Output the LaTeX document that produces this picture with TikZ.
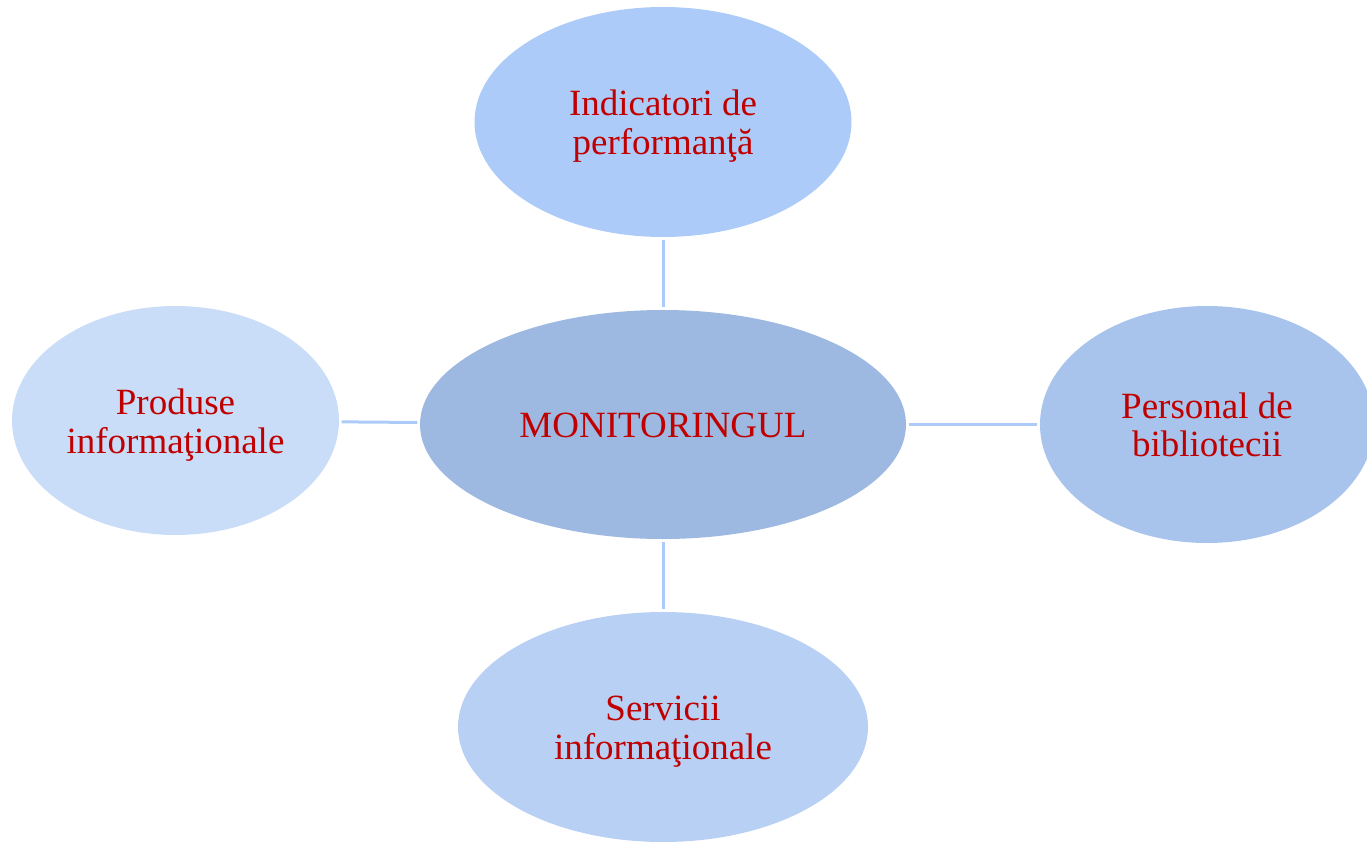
\documentclass[tikz,border=0pt]{standalone}
\usepackage{fontspec}
\setmainfont{Liberation Serif}
\usetikzlibrary{shapes.geometric}
\definecolor{txtred}{HTML}{C00000}
\definecolor{ctop}{HTML}{ADCBF8}
\definecolor{cmid}{HTML}{9DB9E1}
\definecolor{cleft}{HTML}{C9DDF9}
\definecolor{cright}{HTML}{A8C4EC}
\definecolor{cbot}{HTML}{B8D0F4}
\definecolor{cline}{HTML}{ADCBF8}
\begin{document}
\begin{tikzpicture}[x=1pt,y=-1pt,
  oval/.style={ellipse,inner sep=0pt},
  txt/.style={inner sep=0pt,align=center,text=txtred,
    font=\fontsize{37}{38.5}\selectfont},
  conn/.style={draw=cline,line width=3pt,shorten <=2.5pt,shorten >=2.5pt}]
\useasboundingbox (0,0) rectangle (1367,842);
\node[oval,fill=ctop,minimum width=377pt,minimum height=230pt] (top) at (663,122) {};
\node[oval,fill=cmid,minimum width=486pt,minimum height=229pt] (mon) at (663,424.5) {};
\node[oval,fill=cleft,minimum width=327pt,minimum height=229pt] (left) at (175.5,420.5) {};
\node[oval,fill=cright,minimum width=334pt,minimum height=237pt] (right) at (1207,424.5) {};
\node[oval,fill=cbot,minimum width=410pt,minimum height=230pt] (bot) at (663,727) {};
\node[txt] (toptxt) at ([yshift=-4pt]top.center) {Indicatori de\\performanţă};
\node[txt] (montxt) at ([yshift=-1pt]mon.center) {MONITORINGUL};
\node[txt] (lefttxt) at ([yshift=-4.5pt]left.center) {Produse\\informaţionale};
\node[txt] (righttxt) at ([yshift=-0.5pt]right.center) {Personal de\\bibliotecii};
\node[txt] (bottxt) at ([yshift=-4.5pt]bot.center) {Servicii\\informaţionale};
\draw[conn] (top) -- (mon);
\draw[conn] (left) -- (mon);
\draw[conn] (mon) -- (right);
\draw[conn] (mon) -- (bot);
\end{tikzpicture}
\end{document}
